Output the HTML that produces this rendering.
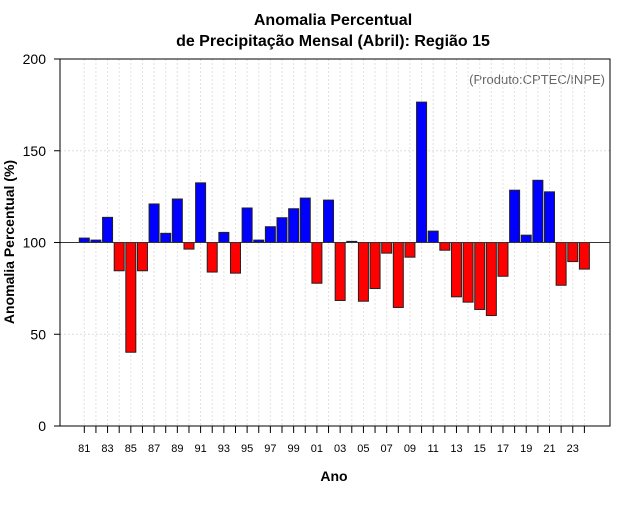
<!DOCTYPE html>
<html><head><meta charset="utf-8"><style>
body{margin:0;background:#fff}
svg{font-family:"Liberation Sans",Arial,sans-serif}
</style></head><body>
<svg id="chart" width="640" height="500" viewBox="0 0 640 500" xmlns="http://www.w3.org/2000/svg">
<text x="333" y="25" text-anchor="middle" font-size="16" font-weight="bold">Anomalia Percentual</text>
<text x="333" y="46" text-anchor="middle" font-size="16" font-weight="bold">de Precipitação Mensal (Abril): Região 15</text>
<text x="605" y="84" text-anchor="end" font-size="13" fill="#666">(Produto:CPTEC/INPE)</text>
<text transform="translate(14,242) rotate(-90)" text-anchor="middle" font-size="14" font-weight="bold">Anomalia Percentual (%)</text>
<text x="334" y="481" text-anchor="middle" font-size="14" font-weight="bold">Ano</text>
<g id="grid"></g>
<g id="bars"></g>
<g id="axes"></g>
</svg>
<script>
const years=[];for(let y=1981;y<=2024;y++)years.push(y);
const values=[102.4,101.3,113.7,84.6,40.2,84.6,121,105,123.7,96.4,132.5,83.9,105.5,83.3,118.8,101.3,108.6,113.5,118.4,124.2,77.8,123.1,68.4,100.6,68,74.9,94.2,64.6,92,176.5,106.2,95.8,70.4,67.5,63.5,60.2,81.6,128.5,104,133.9,127.6,76.7,89.6,85.5];
const yTicks=[0,50,100,150,200];
const baseline=100;
const L=60,R=610,T=59,B=426;
const NS="http://www.w3.org/2000/svg";
const yS=v=>B-(v-0)*(B-T)/200;
const xS=yr=>84.3+(yr-1981)*11.63;
function mk(tag,at,parent){const e=document.createElementNS(NS,tag);for(const k in at)e.setAttribute(k,at[k]);parent.appendChild(e);return e;}
const grid=document.getElementById('grid'),bars=document.getElementById('bars'),axes=document.getElementById('axes');
yTicks.forEach(v=>{if(v===0)return;const l=mk('line',{x1:L,x2:R,y1:yS(v),y2:yS(v),stroke:'#ddd','stroke-dasharray':'2,2'},grid);

});
years.forEach(yr=>{const l=mk('line',{x1:xS(yr),x2:xS(yr),y1:T,y2:B,stroke:'#e2e2e2','stroke-dasharray':'2,2'},grid);

});
years.forEach((yr,i)=>{const v=values[i];const y1=yS(Math.max(v,baseline)),y2=yS(Math.min(v,baseline));
const r=mk('rect',{x:xS(yr)-5,y:y1,width:10,height:Math.max(y2-y1,0.5),fill:v>=baseline?'#0000ff':'#ff0000',stroke:'#222','stroke-width':1},bars);

});
const bl=mk('line',{x1:L,x2:R,y1:yS(baseline),y2:yS(baseline),stroke:'#333','stroke-width':1},axes);


const box=mk('rect',{x:L,y:T,width:R-L,height:B-T,fill:'none',stroke:'#000'},axes);


yTicks.forEach(v=>{mk('line',{x1:L-6,x2:L,y1:yS(v),y2:yS(v),stroke:'#000'},axes);
const t=mk('text',{x:L-14,y:yS(v)+5,'text-anchor':'end','font-size':14},axes);t.textContent=v;

});
mk('line',{x1:xS(1981),x2:xS(2024),y1:B,y2:B,stroke:'#000'},axes);
years.forEach(yr=>{mk('line',{x1:xS(yr),x2:xS(yr),y1:B,y2:B+7,stroke:'#000'},axes);
if(yr%2===1){const t=mk('text',{x:xS(yr),y:452,'text-anchor':'middle','font-size':11},axes);t.textContent=String(yr%100).padStart(2,'0');

}});
</script>
</body></html>
